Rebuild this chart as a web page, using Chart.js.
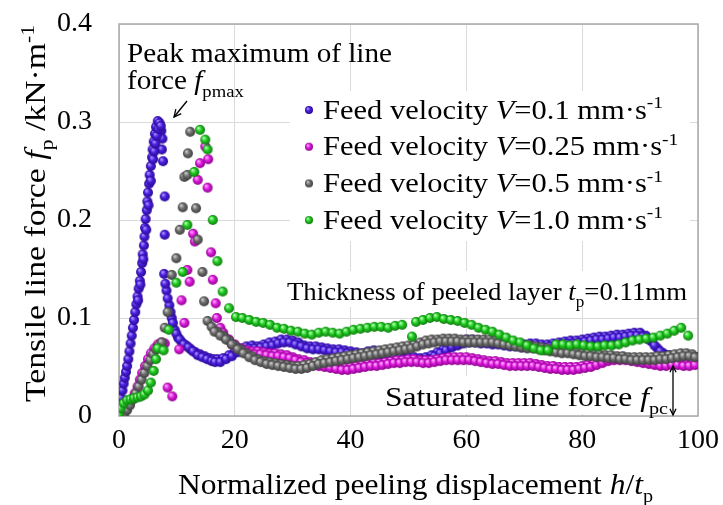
<!DOCTYPE html>
<html lang="en">
<head>
  <meta charset="UTF-8">
  <title>Tensile line force vs normalized peeling displacement</title>
  <script src="https://cdn.jsdelivr.net/npm/chart.js"></script>
  <style>
    body { margin: 0; background: #fff; }
    #wrap { width: 723px; height: 505px; }
  </style>
</head>
<body>
  <div id="wrap"><canvas id="myChart" width="723" height="505"></canvas></div>

  <script>
    // [h/tp, fp (kN/m)]
    // each band is about two balls thick, so the second half of every array holds the other row
    const blueData = [
      [0,0.002],[0.2,0.01],[0.4,0.018],[0.6,0.026],[0.8,0.033],[1.0,0.039],[1.2,0.045],[1.4,0.051],
      [1.6,0.058],[1.8,0.066],[2.0,0.074],[2.2,0.082],[2.4,0.09],[2.6,0.098],[2.8,0.106],[3.0,0.114],
      [3.2,0.122],[3.4,0.13],[3.6,0.138],[3.8,0.147],[4.0,0.156],[4.1,0.165],[4.3,0.174],[4.4,0.183],
      [4.5,0.192],[4.6,0.201],[4.8,0.21],[4.9,0.219],[5.0,0.228],[5.2,0.237],[5.3,0.246],[5.5,0.255],
      [5.7,0.264],[5.8,0.272],[6.0,0.28],[6.2,0.288],[6.4,0.295],[6.7,0.301],[7.0,0.299],[7.3,0.291],
      [7.5,0.283],[7.4,0.272],[7.6,0.26],[7.9,0.224],[7.9,0.185],[7.8,0.145],[8.2,0.128],[8.7,0.113],
      [9.1,0.1],[9.6,0.088],[10.2,0.08],[10.9,0.075],[11.6,0.072],[12.4,0.068],[13.2,0.065],[14.0,0.063],
      [14.8,0.061],[15.6,0.059],[16.3,0.058],
      [17,0.058],[18,0.059],[19,0.062],[20,0.066],[21,0.069],[22,0.071],[23,0.072],[24,0.071],
      [25,0.073],[26,0.075],[27,0.076],[28,0.078],[29,0.078],[30,0.077],[31,0.075],[32,0.072],
      [33,0.071],[34,0.071],[35,0.07],[36,0.069],[37,0.068],[38,0.068],[39,0.067],[40,0.066],
      [41,0.065],[42,0.064],[43,0.066],[44,0.067],[45,0.065],[46,0.064],[47,0.063],[48,0.062],
      [49,0.061],[50,0.06],[51,0.06],[52,0.059],[53,0.06],[54,0.062],[55,0.065],[56,0.068],
      [57,0.071],[58,0.074],[59,0.076],[60,0.078],[61,0.078],[62,0.077],[63,0.077],[64,0.076],
      [65,0.076],[66,0.075],[67,0.074],[68,0.074],[69,0.073],[70,0.073],[71,0.074],[72,0.074],
      [73,0.073],[74,0.073],[75,0.074],[76,0.075],[77,0.076],[78,0.077],[79,0.077],[80,0.078],
      [81,0.079],[82,0.08],[83,0.081],[84,0.081],[85,0.082],[86,0.083],[87,0.083],[88,0.084],
      [89,0.085],[90,0.085],[91,0.082],[92,0.076],[93,0.069],[94,0.064],[95,0.062],[96,0.061],
      [97,0.061],[98,0.062],[99,0.061],[100,0.06],
      // second row
      [3.3,0.118],[3.7,0.134],[4.2,0.16],[4.7,0.19],[5.1,0.215],[5.5,0.24],[5.9,0.262],[6.1,0.27],
      [6.3,0.278],[6.5,0.286],[6.8,0.293],[7.2,0.296],
      [8.0,0.135],[8.4,0.12],[8.9,0.106],[9.3,0.095],[9.9,0.084],[10.5,0.078],[11.2,0.073],[12.0,0.07],
      [12.8,0.066],[13.6,0.062],[14.4,0.06],[15.2,0.058],[16.0,0.056],[16.6,0.055],
      [17.5,0.055],[18.5,0.058],[19.5,0.061],[20.5,0.065],[21.5,0.067],[22.5,0.069],[23.5,0.069],[24.5,0.07],
      [25.5,0.071],[26.5,0.072],[27.5,0.074],[28.5,0.075],[29.5,0.075],[30.5,0.073],[31.5,0.071],[32.5,0.069],
      [33.5,0.068],[34.5,0.068],[35.5,0.067],[36.5,0.066],[37.5,0.065],[38.5,0.065],[39.5,0.064],[40.5,0.063],
      [41.5,0.062],[42.5,0.063],[43.5,0.064],[44.5,0.063],[45.5,0.062],[46.5,0.061],[47.5,0.06],[48.5,0.059],
      [49.5,0.058],[50.5,0.057],[51.5,0.057],[52.5,0.057],[53.5,0.058],[54.5,0.061],[55.5,0.064],[56.5,0.067],
      [57.5,0.07],[58.5,0.072],[59.5,0.074],[60.5,0.075],[61.5,0.075],[62.5,0.074],[63.5,0.074],[64.5,0.073],
      [65.5,0.073],[66.5,0.072],[67.5,0.071],[68.5,0.071],[69.5,0.07],[70.5,0.07],[71.5,0.071],[72.5,0.07],
      [73.5,0.07],[74.5,0.071],[75.5,0.072],[76.5,0.073],[77.5,0.074],[78.5,0.074],[79.5,0.075],[80.5,0.076],
      [81.5,0.077],[82.5,0.078],[83.5,0.078],[84.5,0.079],[85.5,0.08],[86.5,0.08],[87.5,0.081],[88.5,0.082],
      [89.5,0.082],[90.5,0.081],[91.5,0.078],[92.5,0.072],[93.5,0.066],[94.5,0.062],[95.5,0.06],[96.5,0.059],
      [97.5,0.059],[98.5,0.059],[99.5,0.058]
    ];
    const magentaData = [
      [0.4,0.002],[1.0,0.006],[1.6,0.011],[2.2,0.017],[2.7,0.023],[3.2,0.03],[3.6,0.037],[4.0,0.044],
      [4.5,0.051],[5.0,0.058],[5.5,0.064],[6.1,0.069],[6.7,0.073],[7.3,0.075],[7.9,0.074],[8.4,0.029],
      [9.2,0.02],[10.4,0.068],[11.3,0.095],[10.8,0.118],[11.8,0.149],[12.2,0.137],[12.8,0.186],[13.1,0.178],
      [13.6,0.241],[14.0,0.258],[14.9,0.275],[15.4,0.262],[15.3,0.233],[15.9,0.167],[16.2,0.139],[16.7,0.115],
      [16.9,0.1],[17.5,0.09],
      [18,0.085],[19,0.078],[20,0.073],[21,0.069],[22,0.067],[23,0.066],[24,0.066],[25,0.065],
      [26,0.064],[27,0.064],[28,0.063],[29,0.062],[30,0.06],[31,0.058],[32,0.057],[33,0.055],
      [34,0.054],[35,0.053],[36,0.052],[37,0.051],[38,0.05],[39,0.05],[40,0.05],[41,0.051],
      [42,0.052],[43,0.053],[44,0.054],[45,0.054],[46,0.055],[47,0.056],[48,0.057],[49,0.057],
      [50,0.058],[51,0.058],[52,0.057],[53,0.057],[54,0.057],[55,0.058],[56,0.059],[57,0.06],
      [58,0.06],[59,0.06],[60,0.06],[61,0.059],[62,0.058],[63,0.057],[64,0.056],[65,0.056],
      [66,0.055],[67,0.054],[68,0.054],[69,0.054],[70,0.054],[71,0.054],[72,0.053],[73,0.052],
      [74,0.051],[75,0.051],[76,0.05],[77,0.05],[78,0.05],[79,0.05],[80,0.051],[81,0.052],
      [82,0.054],[83,0.056],[84,0.058],[85,0.059],[86,0.06],[87,0.06],[88,0.059],[89,0.058],
      [90,0.057],[91,0.056],[92,0.055],[93,0.054],[94,0.054],[95,0.055],[96,0.055],[97,0.054],
      [98,0.053],[99,0.054],
      // second row
      [18.5,0.079],[19.5,0.073],[20.5,0.069],[21.5,0.066],[22.5,0.064],[23.5,0.063],[24.5,0.063],[25.5,0.062],
      [26.5,0.061],[27.5,0.061],[28.5,0.06],[29.5,0.059],[30.5,0.057],[31.5,0.055],[32.5,0.054],[33.5,0.052],
      [34.5,0.051],[35.5,0.05],[36.5,0.049],[37.5,0.048],[38.5,0.047],[39.5,0.047],[40.5,0.048],[41.5,0.049],
      [42.5,0.05],[43.5,0.051],[44.5,0.051],[45.5,0.052],[46.5,0.053],[47.5,0.054],[48.5,0.054],[49.5,0.055],
      [50.5,0.055],[51.5,0.055],[52.5,0.054],[53.5,0.054],[54.5,0.055],[55.5,0.056],[56.5,0.057],[57.5,0.057],
      [58.5,0.057],[59.5,0.057],[60.5,0.057],[61.5,0.056],[62.5,0.055],[63.5,0.054],[64.5,0.053],[65.5,0.053],
      [66.5,0.052],[67.5,0.051],[68.5,0.051],[69.5,0.051],[70.5,0.051],[71.5,0.051],[72.5,0.05],[73.5,0.049],
      [74.5,0.048],[75.5,0.048],[76.5,0.047],[77.5,0.047],[78.5,0.047],[79.5,0.048],[80.5,0.049],[81.5,0.05],
      [82.5,0.052],[83.5,0.054],[84.5,0.056],[85.5,0.057],[86.5,0.057],[87.5,0.057],[88.5,0.056],[89.5,0.055],
      [90.5,0.054],[91.5,0.053],[92.5,0.052],[93.5,0.051],[94.5,0.051],[95.5,0.052],[96.5,0.052],[97.5,0.051],
      [98.5,0.051],[99.5,0.052]
    ];
    const grayData = [
      [0.9,0.002],[1.4,0.006],[1.9,0.011],[2.4,0.017],[2.9,0.023],[3.4,0.03],[3.9,0.037],[4.4,0.044],
      [4.9,0.051],[5.4,0.057],[5.9,0.063],[6.4,0.068],[6.9,0.072],[7.4,0.075],[7.9,0.09],[8.4,0.106],
      [9.1,0.144],[9.9,0.161],[10.5,0.19],[11.0,0.213],[11.3,0.244],[11.8,0.246],[11.9,0.268],[12.3,0.29],
      [13.3,0.212],[13.6,0.18],[14.4,0.147],[14.7,0.117],[15.3,0.097],
      [16,0.091],[17,0.086],[18,0.082],[19,0.077],[20,0.072],[21,0.068],[22,0.064],[23,0.061],
      [24,0.058],[25,0.056],[26,0.055],[27,0.054],[28,0.053],[29,0.052],[30,0.051],[31,0.051],
      [32,0.052],[33,0.053],[34,0.055],[35,0.057],[36,0.058],[37,0.059],[38,0.06],[39,0.061],
      [40,0.062],[41,0.063],[42,0.064],[43,0.065],[44,0.066],[45,0.067],[46,0.068],[47,0.069],
      [48,0.07],[49,0.071],[50,0.072],[51,0.073],[52,0.075],[53,0.077],[54,0.078],[55,0.078],
      [56,0.079],[57,0.079],[58,0.079],[59,0.078],[60,0.078],[61,0.078],[62,0.078],[63,0.078],
      [64,0.078],[65,0.077],[66,0.076],[67,0.075],[68,0.074],[69,0.073],[70,0.072],[71,0.072],
      [72,0.071],[73,0.07],[74,0.069],[75,0.068],[76,0.067],[77,0.067],[78,0.066],[79,0.065],
      [80,0.064],[81,0.064],[82,0.063],[83,0.063],[84,0.062],[85,0.062],[86,0.061],[87,0.061],
      [88,0.06],[89,0.06],[90,0.06],[91,0.06],[92,0.06],[93,0.061],[94,0.061],[95,0.062],
      [96,0.063],[97,0.064],[98,0.064],[99,0.063],
      // second row
      [16.5,0.086],[17.5,0.082],[18.5,0.078],[19.5,0.073],[20.5,0.068],[21.5,0.064],[22.5,0.06],[23.5,0.057],
      [24.5,0.055],[25.5,0.053],[26.5,0.052],[27.5,0.051],[28.5,0.05],[29.5,0.049],[30.5,0.048],[31.5,0.048],
      [32.5,0.049],[33.5,0.051],[34.5,0.053],[35.5,0.054],[36.5,0.055],[37.5,0.056],[38.5,0.057],[39.5,0.058],
      [40.5,0.059],[41.5,0.06],[42.5,0.061],[43.5,0.062],[44.5,0.063],[45.5,0.064],[46.5,0.065],[47.5,0.066],
      [48.5,0.067],[49.5,0.068],[50.5,0.069],[51.5,0.071],[52.5,0.073],[53.5,0.074],[54.5,0.075],[55.5,0.076],
      [56.5,0.076],[57.5,0.076],[58.5,0.076],[59.5,0.075],[60.5,0.075],[61.5,0.075],[62.5,0.075],[63.5,0.075],
      [64.5,0.075],[65.5,0.074],[66.5,0.073],[67.5,0.072],[68.5,0.071],[69.5,0.07],[70.5,0.069],[71.5,0.069],
      [72.5,0.068],[73.5,0.067],[74.5,0.066],[75.5,0.065],[76.5,0.064],[77.5,0.064],[78.5,0.063],[79.5,0.062],
      [80.5,0.061],[81.5,0.061],[82.5,0.06],[83.5,0.06],[84.5,0.059],[85.5,0.059],[86.5,0.058],[87.5,0.058],
      [88.5,0.057],[89.5,0.057],[90.5,0.057],[91.5,0.057],[92.5,0.057],[93.5,0.058],[94.5,0.058],[95.5,0.059],
      [96.5,0.06],[97.5,0.061],[98.5,0.061],[99.5,0.06]
    ];
    const greenData = [
      [0,0.001],[0.3,0.008],[0.8,0.013],[1.4,0.016],[2.0,0.017],[2.6,0.018],[3.2,0.019],[3.8,0.02],
      [4.4,0.022],[5.0,0.026],[5.5,0.034],[6.0,0.046],[6.4,0.058],[6.7,0.069],[7.7,0.067],[8.6,0.088],
      [9.9,0.136],[11.0,0.147],[11.8,0.195],[13.0,0.249],[14.0,0.292],[14.9,0.282],[15.3,0.272],[16.2,0.2],
      [17.0,0.158],[17.9,0.127],[19.0,0.11],[20.2,0.101],
      [21.3,0.1],[22.5,0.098],[23.7,0.096],[24.9,0.095],[26.1,0.093],[27.3,0.09],[28.5,0.089],[29.7,0.087],
      [30.9,0.086],[32.1,0.084],[33.3,0.083],[34.5,0.085],[35.7,0.086],[36.9,0.085],[38.1,0.084],[39.3,0.086],
      [40.5,0.088],[41.7,0.089],[42.9,0.09],[44.1,0.091],[45.3,0.091],[46.5,0.09],[47.7,0.092],[48.9,0.093],
      [50.6,0.081],[51.3,0.096],[52.5,0.098],[53.7,0.1],[54.9,0.101],[56.1,0.099],[57.3,0.098],[58.5,0.097],
      [59.7,0.095],[60.9,0.093],[62.1,0.09],[63.3,0.088],[64.5,0.086],[65.7,0.083],[66.9,0.08],[68.1,0.077],
      [69.3,0.075],[70.5,0.072],[71.7,0.069],[72.9,0.067],[74.1,0.067],[75.5,0.073],[76.7,0.073],[77.9,0.072],
      [79.1,0.073],[80.3,0.072],[81.5,0.071],[82.7,0.071],[83.9,0.072],[85.1,0.072],[86.3,0.073],[87.5,0.075],
      [88.7,0.077],[89.9,0.078],[91.1,0.079],[92.3,0.08],[93.5,0.082],[94.7,0.084],[95.9,0.087],[97.1,0.09],
      [98.3,0.082]
    ];
    const seriesSpeeds = ['0.1', '0.25', '0.5', '1.0'];
    const xTicks = [0, 20, 40, 60, 80, 100];
    const yTicks = [0, 0.1, 0.2, 0.3, 0.4];

    const SERIF = '"Liberation Serif", "Times New Roman", serif';

    // shaded ball used as point marker
    function ball(base, light, dark, r) {
      const c = document.createElement('canvas');
      const s = Math.ceil(r * 2) + 2;
      c.width = c.height = s;
      const g = c.getContext('2d');
      const m = s / 2;
      const grad = g.createRadialGradient(m - r * 0.35, m - r * 0.4, r * 0.1, m, m, r);
      grad.addColorStop(0, light);
      grad.addColorStop(0.45, base);
      grad.addColorStop(1, dark);
      g.fillStyle = grad;
      g.beginPath();
      g.arc(m, m, r, 0, Math.PI * 2);
      g.fill();
      return c;
    }

    const colors = [
      ['#4a1ee0', '#a890ff', '#2a0a90'],
      ['#e01ee0', '#ffa8ff', '#8a008a'],
      ['#707070', '#c8c8c8', '#3c3c3c'],
      ['#22cc22', '#b0ffb0', '#0e7a0e']
    ];
    const bigBalls = colors.map(c => ball(c[0], c[1], c[2], 5));
    const smallBalls = colors.map(c => ball(c[0], c[1], c[2], 4));

    // text made of runs: [text, kind] kind = n | i | sub | sup
    function runFont(kind, size) {
      const it = kind === 'i' ? 'italic ' : '';
      const sz = (kind === 'sub' || kind === 'sup') ? size * 0.64 : size;
      return it + sz + 'px ' + SERIF;
    }
    function runsWidth(ctx, runs, size) {
      let w = 0;
      runs.forEach(r => { ctx.font = runFont(r[1], size); w += ctx.measureText(r[0]).width; });
      return w;
    }
    function drawRuns(ctx, runs, x, y, size, sx) {
      ctx.save();
      ctx.translate(x, y);
      ctx.scale(sx, 1);
      ctx.fillStyle = '#000';
      ctx.textBaseline = 'alphabetic';
      ctx.textAlign = 'left';
      let cx = 0;
      runs.forEach(r => {
        ctx.font = runFont(r[1], size);
        let dy = 0;
        if (r[1] === 'sub') dy = size * 0.28;
        if (r[1] === 'sup') dy = -size * 0.38;
        ctx.fillText(r[0], cx, dy);
        cx += ctx.measureText(r[0]).width;
      });
      ctx.restore();
    }
    // draw with given left x and target width
    function drawFit(ctx, runs, x, y, size, width) {
      const w = runsWidth(ctx, runs, size);
      drawRuns(ctx, runs, x, y, size, width / w);
      return width / w;
    }

    function arrowHead(ctx, x1, y1, x2, y2, len) {
      const a = Math.atan2(y2 - y1, x2 - x1);
      ctx.beginPath();
      ctx.moveTo(x2 - len * Math.cos(a - 0.45), y2 - len * Math.sin(a - 0.45));
      ctx.lineTo(x2, y2);
      ctx.lineTo(x2 - len * Math.cos(a + 0.45), y2 - len * Math.sin(a + 0.45));
      ctx.stroke();
    }

    const annotations = {
      id: 'annotations',
      beforeDatasetsDraw(chart) {
        const { ctx, chartArea: a } = chart;
        ctx.save();
        // white boxes behind the texts hide the grid
        ctx.fillStyle = '#fff';
        ctx.fillRect(290, 91, 400, 150);
        ctx.fillRect(281, 271, 416, 36);
        ctx.fillRect(380, 376, 288, 38);
        // frame
        ctx.strokeStyle = '#a9a9a9';
        ctx.lineWidth = 1.5;
        ctx.strokeRect(a.left, a.top, a.right - a.left, a.bottom - a.top);
        ctx.restore();
      },
      afterDatasetsDraw(chart) {
        const { ctx } = chart;
        ctx.save();

        // legend
        let sx = 1;
        seriesSpeeds.forEach((v, i) => {
          const cy = 110 + i * 36.7;
          const img = smallBalls[i];
          ctx.drawImage(img, 309 - img.width / 2, cy - img.height / 2);
          const runs = [['Feed velocity ', 'n'], ['V', 'i'], ['=' + v + ' mm\u00b7s', 'n'], ['-1', 'sup']];
          if (i === 0) sx = drawFit(ctx, runs, 323, cy + 8.5, 27, 340);
          else drawRuns(ctx, runs, 323, cy + 8.5, 27, sx);
        });

        // peak annotation
        const s1 = drawFit(ctx, [['Peak maximum of line', 'n']], 127, 62, 27, 265);
        drawRuns(ctx, [['force ', 'n'], ['f', 'i'], ['pmax', 'sub']], 127, 89, 27, s1);
        ctx.strokeStyle = '#000';
        ctx.lineWidth = 1.3;
        ctx.beginPath();
        ctx.moveTo(187, 101);
        ctx.lineTo(174, 117);
        ctx.stroke();
        arrowHead(ctx, 187, 101, 174, 117, 8);

        // thickness
        drawFit(ctx, [['Thickness of peeled layer ', 'n'], ['t', 'i'], ['p', 'sub'], ['=0.11mm', 'n']], 287, 300, 26, 400);

        // saturated force
        drawFit(ctx, [['Saturated line force ', 'n'], ['f', 'i'], ['pc', 'sub']], 385, 406, 27, 283);
        ctx.beginPath();
        ctx.moveTo(673, 366);
        ctx.lineTo(673, 415);
        ctx.stroke();
        arrowHead(ctx, 673, 415, 673, 366, 7);
        arrowHead(ctx, 673, 366, 673, 415, 7);

        // axis titles
        drawFit(ctx, [['Normalized peeling displacement ', 'n'], ['h', 'i'], ['/', 'n'], ['t', 'i'], ['p', 'sub']], 178, 494, 29, 475);
        ctx.save();
        ctx.translate(45, 402);
        ctx.rotate(-Math.PI / 2);
        drawFit(ctx, [['Tensile line force ', 'n'], ['f', 'i'], ['p', 'sub'], [' /kN\u00b7m', 'n'], ['-1', 'sup']], 0, 0, 29, 377);
        ctx.restore();

        ctx.restore();
      }
    };

    const toPts = arr => arr.map(p => ({ x: p[0], y: p[1] }));
    const allData = [blueData, magentaData, grayData, greenData];

    const ctx = document.getElementById('myChart').getContext('2d');
    const myChart = new Chart(ctx, {
      type: 'scatter',
      data: {
        datasets: allData.map((d, i) => ({
          label: 'Feed velocity V=' + seriesSpeeds[i] + ' mm\u00b7s-1',
          data: toPts(d),
          pointStyle: bigBalls[i],
          pointRadius: 5,
          order: 4 - i
        }))
      },
      options: {
        responsive: false,
        animation: false,
        layout: { padding: { top: 24, right: 25, left: 0, bottom: 0 } },
        plugins: {
          legend: { display: false },
          tooltip: { enabled: false }
        },
        scales: {
          x: {
            type: 'linear',
            min: 0,
            max: 100,
            afterBuildTicks: s => { s.ticks = xTicks.map(v => ({ value: v })); },
            afterFit: s => { s.height = 89; s.paddingLeft = 0; s.paddingRight = 0; },
            ticks: { color: '#000', font: { family: SERIF, size: 28 }, padding: 8, maxRotation: 0 },
            grid: { color: '#dadada', drawTicks: false },
            border: { display: false }
          },
          y: {
            type: 'linear',
            min: 0,
            max: 0.4,
            afterBuildTicks: s => { s.ticks = yTicks.map(v => ({ value: v })); },
            afterFit: s => { s.width = 119; s.paddingTop = 0; s.paddingBottom = 0; },
            ticks: {
              color: '#000',
              font: { family: SERIF, size: 28 },
              padding: 27,
              callback: v => (v === 0 ? '0' : v.toFixed(1))
            },
            grid: { color: '#dadada', drawTicks: false },
            border: { display: false }
          }
        }
      },
      plugins: [annotations]
    });
  </script>
</body>
</html>
